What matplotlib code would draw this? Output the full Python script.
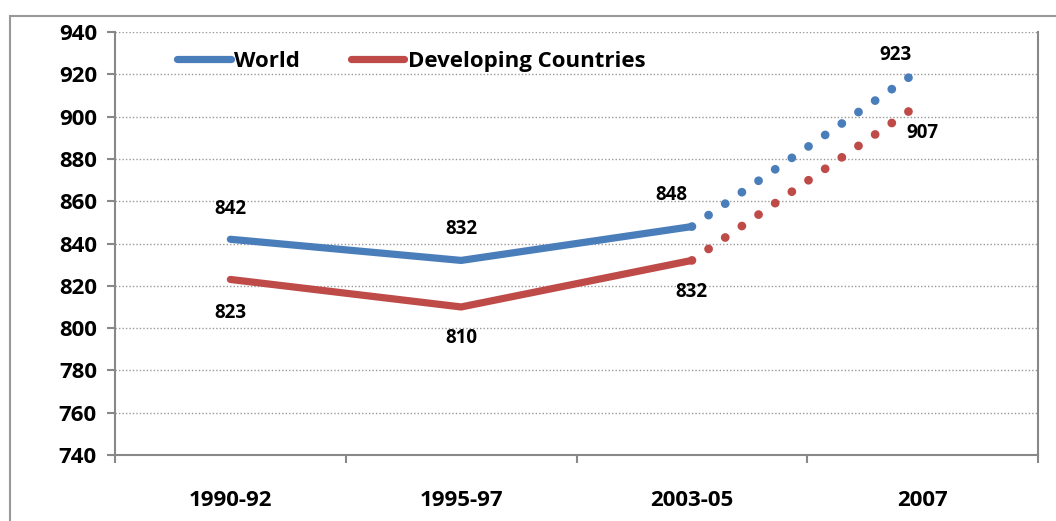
import matplotlib.pyplot as plt
from matplotlib.patches import Rectangle

plt.rcParams['font.family'] = ['Open Sans', 'DejaVu Sans']
plt.rcParams['font.weight'] = 'bold'

periods = ['1990-92', '1995-97', '2003-05', '2007']
world = [842, 832, 848, 923]
developing = [823, 810, 832, 907]

blue = '#4A7EBB'
red = '#BE4B48'
gray = '#888888'

fig = plt.figure(figsize=(10.56, 5.21), dpi=100)
ax = fig.add_axes([115 / 1056, 1 - 455 / 521, (1038 - 115) / 1056, (455 - 32) / 521])

x = list(range(len(periods)))

# solid part up to 2003-05, dotted projection to 2007
ax.plot(x[:3], world[:3], color=blue, lw=5.2, solid_capstyle='round', solid_joinstyle='miter', label='World', zorder=3)
ax.plot(x[:3], developing[:3], color=red, lw=5.2, solid_capstyle='round', solid_joinstyle='miter', label='Developing Countries', zorder=3)
ax.plot(x[2:], world[2:], color=blue, lw=6.3, linestyle=(0, (0.01, 2.3)), dash_capstyle='round', zorder=3)
ax.plot(x[2:], developing[2:], color=red, lw=6.3, linestyle=(0, (0.01, 2.3)), dash_capstyle='round', zorder=3)

ax.set_xlim(-0.5, 3.5)
ax.set_ylim(740, 940)
ax.set_yticks(range(740, 941, 20))
ax.set_xticks(x)
ax.set_xticklabels(periods)
ax.set_xticks([-0.5, 0.5, 1.5, 2.5, 3.5], minor=True)
ax.tick_params(axis='x', which='major', length=0, pad=25, labelsize=16)
ax.tick_params(axis='x', which='minor', length=6, width=1.5, color=gray)
ax.tick_params(axis='y', length=6, width=1.5, color=gray, labelsize=16, pad=7)

ax.grid(axis='y', linestyle=(0, (1, 1.5)), color='#999999', lw=1)
ax.set_axisbelow(True)
ax.spines['top'].set_visible(False)
for s in ['left', 'bottom', 'right']:
    ax.spines[s].set_color(gray)
    ax.spines[s].set_linewidth(1.5)

# data labels (offsets in pixels)
world_offsets = [(0, 30), (0, 31), (-20, 32), (-27, 13)]
dev_offsets = [(0, -34), (0, -31), (0, -32), (0, -31)]
for i in range(len(periods)):
    ax.annotate(str(world[i]), (x[i], world[i]), xytext=world_offsets[i], textcoords='offset pixels',
                ha='center', va='center', fontsize=13.5, fontweight='bold')
    ax.annotate(str(developing[i]), (x[i], developing[i]), xytext=dev_offsets[i], textcoords='offset pixels',
                ha='center', va='center', fontsize=13.5, fontweight='bold')

leg = ax.legend(loc='upper left', bbox_to_anchor=(0.046, 1.003), ncol=2, frameon=False,
                prop={'size': 16, 'weight': 'bold'},
                handlelength=2.4, handletextpad=0.15, columnspacing=2.3)

# outer chart border
fig.patches.append(Rectangle((10 / 1056, -0.1), 1.2, (521 - 16) / 521 + 0.1, transform=fig.transFigure,
                             fill=False, edgecolor='#999999', lw=1.5))

fig.savefig('out.png', dpi=100)
